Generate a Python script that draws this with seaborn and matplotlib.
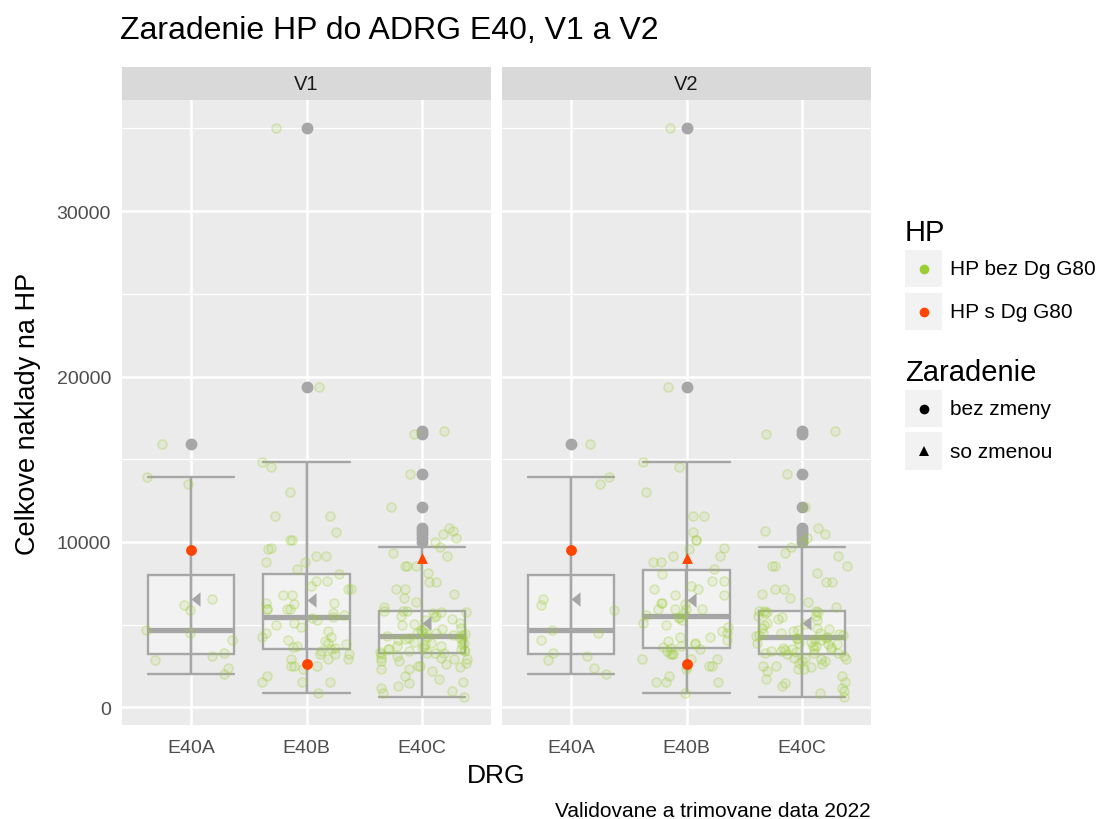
import numpy as np
import pandas as pd
import matplotlib
matplotlib.use("Agg")
import matplotlib.pyplot as plt
import seaborn as sns
from matplotlib.patches import Rectangle
from matplotlib.lines import Line2D
from matplotlib.path import Path
from matplotlib.colors import to_rgba

# ---------------- data ----------------
versions = ["V1", "V2"]
drg_order = ["E40A", "E40B", "E40C"]

e40a_green = [15900, 13900, 13500, 6530, 6190, 5870, 4680, 4520, 4050, 3310,
              3100, 2860, 2400, 2000]
e40b_green = [35000, 19350, 14840, 14500, 13030, 11540, 11540, 10570, 10100, 10100,
              9660, 9600, 9170, 9170, 8770, 8770, 8350, 8090, 7620, 7620,
              7340, 7160, 7160, 6780, 6780, 6310, 6310, 6230, 5930, 5930,
              5930, 5930, 5700, 5600, 5490, 5370, 5250, 5080, 5000, 4850,
              4620, 4500, 4240, 4240, 4070, 3990, 3900, 3810, 3700, 3650,
              3600, 3550, 3400, 3200, 3200, 3200, 2950, 2950, 2950, 2520,
              2520, 2520, 2300, 1900, 1510, 1510, 1510, 870]
e40c_green = [16700, 16550, 14080, 12100, 10870, 10650, 10450, 10250, 10000,
              9680, 9360, 9160, 8550, 8550, 8550, 8150, 7550, 7550, 7180, 7180,
              6840, 6630, 6370, 6090, 5850,
              5820, 5800, 5770, 5750, 5700, 5530, 5500, 5450, 5320, 5250,
              5120, 5050, 4950, 4820, 4800, 4750, 4700, 4600, 4520, 4500,
              4480, 4450, 4400, 4350, 4310,
              4250, 4210, 4200, 4150, 4100, 4050, 3950, 3910, 3900, 3850,
              3800, 3710, 3700, 3650, 3600, 3550, 3510, 3500, 3450, 3400,
              3380, 3350, 3310, 3300, 3270,
              3200, 3100, 3000, 3000, 2950, 2900, 2800, 2800, 2700, 2600,
              2500, 2500, 2450, 2300, 2300, 2200, 1900, 1690, 1500, 1490,
              1300, 1190, 990, 850, 650]

red_values = [9500, 2600, 9000]
red_zaradenie = ["bez zmeny", "bez zmeny", "so zmenou"]
red_drg = {"V1": ["E40A", "E40B", "E40C"], "V2": ["E40A", "E40B", "E40B"]}

hp_levels = ["HP bez Dg G80", "HP s Dg G80"]
zar_levels = ["bez zmeny", "so zmenou"]

rows = []
for ver in versions:
    for drg, vals in zip(drg_order, [e40a_green, e40b_green, e40c_green]):
        for v in vals:
            rows.append((ver, drg, v, hp_levels[0], zar_levels[0]))
    for drg, v, z in zip(red_drg[ver], red_values, red_zaradenie):
        rows.append((ver, drg, v, hp_levels[1], z))
df = pd.DataFrame(rows, columns=["verzia", "DRG", "naklady", "HP", "zaradenie"])

# ---------------- style ----------------
sns.set_style("white")
plt.rcParams["font.family"] = ["Liberation Sans", "DejaVu Sans"]

GRAY = "#A6A6A6"
GREEN = "#9ACD32"
RED = "#FF4500"
BG = "#EBEBEB"

W, H = 1097, 820
fig = plt.figure(figsize=(W / 100, H / 100), dpi=100)
fig.patch.set_facecolor("white")


def fx(x):
    return x / W


def fy(y):
    return 1 - y / H


panel_top, panel_bot = 101, 726
panels = [(122, 491), (502, 871)]
mean_marker = Path([(0, 0), (1, 0.8), (1, -0.8), (0, 0)],
                   [Path.MOVETO, Path.LINETO, Path.LINETO, Path.CLOSEPOLY])

np.random.seed(11)

for i, ver in enumerate(versions):
    x0, x1 = panels[i]
    ax = fig.add_axes([fx(x0), fy(panel_bot), (x1 - x0) / W, (panel_bot - panel_top) / H])
    ax.set_facecolor(BG)
    d = df[df.verzia == ver]

    # main boxes
    sns.boxplot(data=d, x="DRG", y="naklady", order=drg_order, width=0.75,
                color="white", saturation=1, linecolor=GRAY, linewidth=1.7,
                fliersize=7.5,
                flierprops=dict(marker="o", markerfacecolor=GRAY, markeredgecolor=GRAY),
                medianprops=dict(linewidth=3.8, color=GRAY),
                boxprops=dict(facecolor=(0.97, 0.97, 0.97, 0.6)),
                ax=ax)
    for cont in ax.containers:
        if hasattr(cont, "caps") and hasattr(cont, "boxes"):
            for j, box in enumerate(cont.boxes):
                xs = box.get_path().vertices[:, 0]
                lo, hi = xs.min(), xs.max()
                for cap in cont.caps[2 * j:2 * j + 2]:
                    cap.set_xdata([lo, hi])

    # vertical errorbar line through the box
    sns.boxplot(data=d, x="DRG", y="naklady", order=drg_order, width=0.002,
                fill=False, color=GRAY, linewidth=1.7, showcaps=False,
                showfliers=False, medianprops=dict(linewidth=0), ax=ax)

    # jittered green points
    g = d[d.HP == hp_levels[0]]
    n0 = len(ax.collections)
    sns.stripplot(data=g, x="DRG", y="naklady", order=drg_order, jitter=0.4,
                  size=6.5, color=GREEN, linewidth=1.1, edgecolor=GREEN, ax=ax)
    for coll in ax.collections[n0:]:
        coll.set_facecolor(to_rgba(GREEN, 0.12))
        coll.set_edgecolor(to_rgba(GREEN, 0.3))

    # red points
    r = d[d.HP == hp_levels[1]]
    for z, mk in zip(zar_levels, ["o", "^"]):
        sub = r[r.zaradenie == z]
        sns.stripplot(data=sub, x="DRG", y="naklady", order=drg_order, jitter=0.3,
                      size=7.8, color=RED, marker=mk, linewidth=0, ax=ax)

    # mean markers
    means = d.groupby("DRG", as_index=False)["naklady"].mean()
    sns.stripplot(data=means, x="DRG", y="naklady", order=drg_order, jitter=False,
                  size=13, color=GRAY, marker=mean_marker, linewidth=0, ax=ax)

    ax.set_xlim(-0.6, 2.6)
    ax.set_ylim(-1070, 36720)
    ax.set_yticks([0, 10000, 20000, 30000])
    ax.set_yticks([5000, 15000, 25000, 35000], minor=True)
    ax.set_xticks(range(3))
    ax.set_xticklabels(drg_order)
    ax.grid(which="major", color="white", linewidth=1.8)
    ax.grid(which="minor", axis="y", color="white", linewidth=0.9)
    ax.set_axisbelow(True)
    for s in ax.spines.values():
        s.set_visible(False)
    ax.set_xlabel("")
    ax.set_ylabel("")
    ax.tick_params(which="major", length=4, width=1.1, color="#333333",
                   labelsize=14, labelcolor="#4D4D4D", pad=4)
    ax.tick_params(axis="x", which="major", pad=6)
    ax.tick_params(which="minor", length=0)
    if i == 1:
        ax.tick_params(axis="y", left=False, labelleft=False)

    # facet strip
    sax = fig.add_axes([fx(x0), fy(panel_top), (x1 - x0) / W, 33 / H])
    sax.set_facecolor("#D9D9D9")
    sax.set_xticks([])
    sax.set_yticks([])
    for s in sax.spines.values():
        s.set_visible(False)
    sax.text(0.5, 0.5, ver, ha="center", va="center", fontsize=14.5,
             color="#1A1A1A", transform=sax.transAxes)

# ---------------- texts ----------------
fig.text(fx(120), fy(31), "Zaradenie HP do ADRG E40, V1 a V2", fontsize=23,
         va="center", ha="left", color="black")
fig.text(fx(28), fy(414), "Celkove naklady na HP", fontsize=19.5, rotation=90,
         va="center", ha="center", color="black")
fig.text(fx(496), fy(776), "DRG", fontsize=19, va="center", ha="center", color="black")
fig.text(fx(871), fy(812), "Validovane a trimovane data 2022", fontsize=15,
         va="center", ha="right", color="black")

# ---------------- legend ----------------
def key(ytop, ybot, color, marker, label):
    fig.patches.append(Rectangle((fx(905), fy(ybot)), 37 / W, (ybot - ytop) / H,
                                 transform=fig.transFigure, facecolor="#F2F2F2",
                                 edgecolor="none"))
    yc = (ytop + ybot) / 2
    fig.lines.append(Line2D([fx(923.5)], [fy(yc)], transform=fig.transFigure,
                            marker=marker, markersize=7, color=color,
                            markeredgewidth=0, linestyle="none"))
    fig.text(fx(950), fy(yc), label, fontsize=15, va="center", ha="left", color="black")


fig.text(fx(905), fy(233), "HP", fontsize=21, va="center", ha="left", color="black")
key(251, 288, GREEN, "o", hp_levels[0])
key(294, 331, RED, "o", hp_levels[1])
fig.text(fx(905), fy(373), "Zaradenie", fontsize=21, va="center", ha="left", color="black")
key(391, 428, "black", "o", zar_levels[0])
key(433, 471, "black", "^", zar_levels[1])

fig.savefig("out.png", dpi=100)
